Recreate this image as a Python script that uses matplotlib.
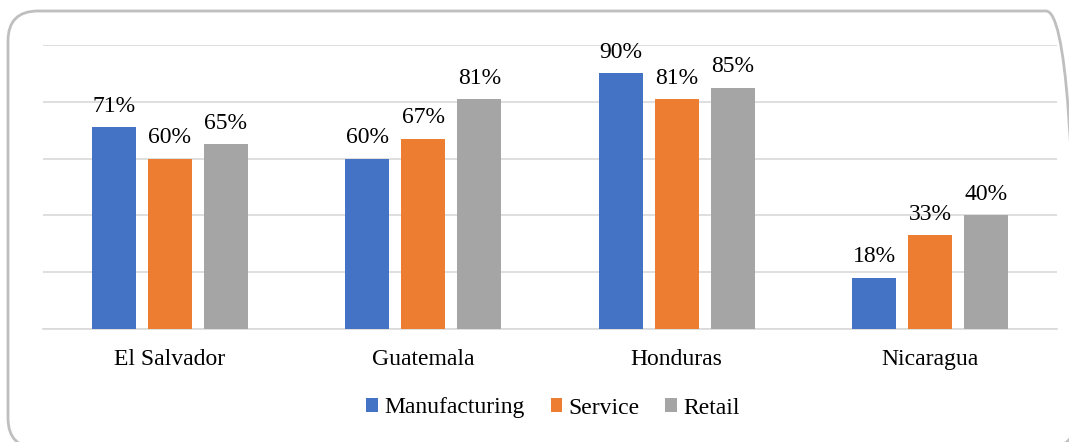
import matplotlib
matplotlib.use("Agg")
import matplotlib.pyplot as plt
import numpy as np
from matplotlib.patches import FancyBboxPatch

categories = ["El Salvador", "Guatemala", "Honduras", "Nicaragua"]
series_names = ["Manufacturing", "Service", "Retail"]
manufacturing = [71, 60, 90, 18]
service = [60, 67, 81, 33]
retail = [65, 81, 85, 40]
colors = ["#4472C4", "#ED7D31", "#A5A5A5"]

plt.rcParams['font.family'] = ['Liberation Serif', 'DejaVu Serif']

W, H = 1069, 442
fig = plt.figure(figsize=(W / 100, H / 100), dpi=100)

# background axes in pixel coordinates (origin bottom-left) for the rounded frame
bg = fig.add_axes([0, 0, 1, 1])
bg.set_xlim(0, W)
bg.set_ylim(0, H)
bg.axis("off")
frame = FancyBboxPatch((8, -6), 1076 - 8, (H - 11) + 6,
                       boxstyle="round,pad=0,rounding_size=30",
                       fill=False, edgecolor="#BFBFBF", linewidth=2)
bg.add_patch(frame)

left, right, top, bottom = 43, 1057, 45, 329
ax = fig.add_axes([left / W, 1 - bottom / H, (right - left) / W, (bottom - top) / H])
ax.patch.set_alpha(0)

x = np.arange(len(categories))
bw = 0.1736
step = 0.221
for i, (name, vals) in enumerate(zip(series_names, [manufacturing, service, retail])):
    pos = x + (i - 1) * step
    ax.bar(pos, vals, width=bw, color=colors[i], label=name, zorder=3)
    for p, v in zip(pos, vals):
        ax.annotate(f"{v}%", (p, v), xytext=(0, 7.5), textcoords="offset points",
                    ha="center", va="bottom", fontsize=17, color="#000000", zorder=4)

ax.set_xlim(-0.5, len(categories) - 0.5)
ax.set_ylim(0, 100)
ax.set_yticks([0, 20, 40, 60, 80, 100])
ax.yaxis.grid(True, color="#D9D9D9", linewidth=1.2, zorder=0)
ax.tick_params(axis="y", left=False, labelleft=False)
ax.tick_params(axis="x", bottom=False, labelsize=17, pad=11)
ax.set_xticks(x)
ax.set_xticklabels(categories)
for s in ["top", "right", "left"]:
    ax.spines[s].set_visible(False)
ax.spines["bottom"].set_color("#D9D9D9")
ax.spines["bottom"].set_linewidth(1.2)

fig.legend(loc="center", bbox_to_anchor=(553 / W, 1 - 408 / H), ncol=3, frameon=False,
           fontsize=17, handlelength=0.5, handleheight=0.5, handletextpad=0.25,
           columnspacing=1.1)

fig.savefig("out.png", dpi=100)
